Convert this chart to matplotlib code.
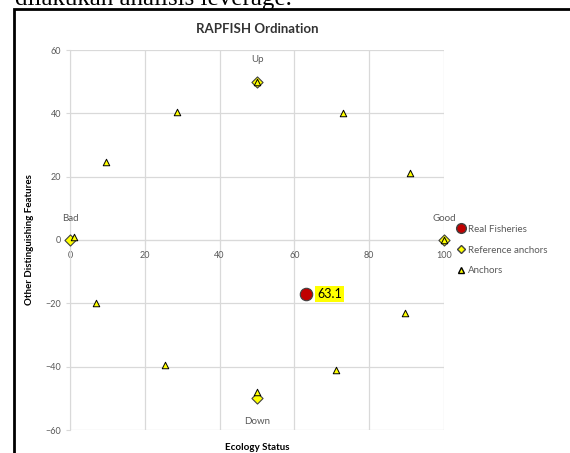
import matplotlib.pyplot as plt
from matplotlib.patches import Rectangle
from matplotlib.lines import Line2D

plt.rcParams['font.family'] = ['Lato', 'DejaVu Sans']

# data
fish_x = [63.1]
fish_y = [-17]
fish_label = "63.1"

ref_x = [0, 100, 50, 50]
ref_y = [0, 0, 50, -50]
ref_names = ["Bad", "Good", "Up", "Down"]

anch_x = [1, 100, 50, 50, 9.5, 28.5, 73, 91, 7, 25.5, 71, 89.5]
anch_y = [1, 0, 50, -48, 24.5, 40.5, 40, 21, -20, -39.5, -41, -23]

fig = plt.figure(figsize=(5.7, 4.53), dpi=100)

# surrounding document bits
fig.text(15/570, 1 - 5/453, "dilakukan analisis leverage.", fontsize=18,
         family='Liberation Serif', va='baseline', ha='left')
fig.patches.append(Rectangle((14/570, -0.1), 1.2, 1 - 9/453 + 0.1,
                             transform=fig.transFigure, fill=False,
                             edgecolor='black', linewidth=2))

ax = fig.add_axes([70/570, 1 - 430/453, 374/570, 380/453])

ax.scatter(anch_x, anch_y, marker='^', s=22, color='#ffff00',
           edgecolors='black', linewidths=0.7, zorder=4, clip_on=False)
ax.scatter(ref_x, ref_y, marker='D', s=32, color='#ffff00',
           edgecolors='#404040', linewidths=0.8, zorder=3, clip_on=False)
ax.scatter(fish_x, fish_y, marker='o', s=80, color='#c00000',
           edgecolors='#404040', linewidths=0.8, zorder=5)

gray = '#595959'
offs = {"Bad": (0, 5.5), "Good": (0, 5.5), "Up": (0, 5.5), "Down": (0, -6)}
for nx, ny, nm in zip(ref_x, ref_y, ref_names):
    dx, dy = offs[nm]
    ax.text(nx + dx, ny + dy, nm, ha='center',
            va='bottom' if dy > 0 else 'top', fontsize=7, color=gray)

ax.text(fish_x[0] + 3, fish_y[0], fish_label, ha='left', va='center',
        fontsize=9, color='black',
        bbox=dict(boxstyle='square,pad=0.15', facecolor='#ffff00', edgecolor='none'))

ax.set_xlim(0, 100)
ax.set_ylim(-60, 60)
ax.set_xticks([0, 20, 40, 60, 80, 100])
ax.set_yticks([-60, -40, -20, 0, 20, 40, 60])
ax.grid(True, color='#d9d9d9', linewidth=0.9)
ax.set_axisbelow(True)
ax.spines['top'].set_visible(False)
ax.spines['right'].set_visible(False)
ax.spines['bottom'].set_position(('data', 0))
ax.spines['bottom'].set_color('#d9d9d9')
ax.spines['left'].set_color('#d9d9d9')
ax.tick_params(colors='#d9d9d9', labelcolor=gray, labelsize=6.5, length=3)
ax.tick_params(axis='x', pad=5)

ax.set_title("RAPFISH Ordination", fontsize=9.5, fontweight='bold',
             color='#333333', pad=12)
ax.set_xlabel("Ecology Status", fontsize=7, fontweight='bold', labelpad=0)
ax.xaxis.set_label_coords(0.5, -0.035)
ax.set_ylabel("Other Distinguishing Features", fontsize=7, fontweight='bold')
ax.yaxis.set_label_coords(-0.095, 0.5)

handles = [
    Line2D([], [], marker='o', linestyle='none', markersize=7,
           markerfacecolor='#c00000', markeredgecolor='#404040'),
    Line2D([], [], marker='D', linestyle='none', markersize=4.5,
           markerfacecolor='#ffff00', markeredgecolor='#404040'),
    Line2D([], [], marker='^', linestyle='none', markersize=5,
           markerfacecolor='#ffff00', markeredgecolor='black'),
]
fig.legend(handles, ["Real Fisheries", "Reference anchors", "Anchors"],
           loc='upper left', bbox_to_anchor=(450/570, 1 - 220/453),
           frameon=False, fontsize=7, labelcolor=gray, handletextpad=0.1,
           handlelength=1.2, labelspacing=1.2, borderpad=0)

fig.savefig("out.png", dpi=100)
